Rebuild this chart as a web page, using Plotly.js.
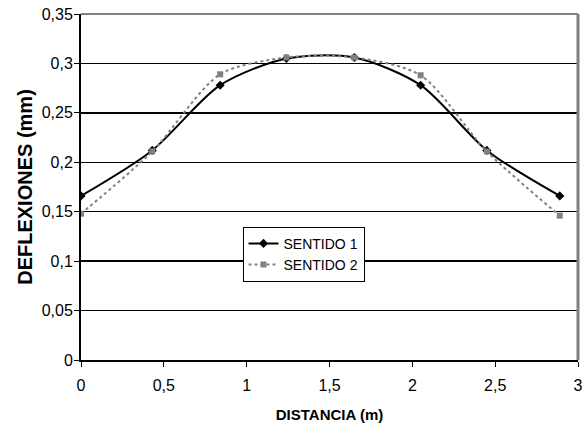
<!DOCTYPE html>
<html>
<head>
<meta charset="utf-8">
<script src="https://cdn.plot.ly/plotly-3.0.1.min.js"></script>
<style>html,body{margin:0;padding:0;background:#fff;}</style>
</head>
<body>
<div id="chart" style="width:588px;height:438px;"></div>
<script>
const distancia = [0, 0.43, 0.84, 1.24, 1.65, 2.05, 2.45, 2.89];
const sentido1 = [0.166, 0.212, 0.278, 0.305, 0.306, 0.278, 0.212, 0.166];
const sentido2 = [0.148, 0.211, 0.289, 0.306, 0.306, 0.288, 0.211, 0.146];
const seriesNames = ['SENTIDO 1', 'SENTIDO 2'];
const xTicks = [0, 0.5, 1, 1.5, 2, 2.5, 3];
const yTicks = [0, 0.05, 0.1, 0.15, 0.2, 0.25, 0.3, 0.35];

const traces = [
  {
    x: distancia, y: sentido1, name: seriesNames[0], type: 'scatter', mode: 'lines+markers',
    line: {color: '#000000', width: 2, shape: 'spline', smoothing: 0.8},
    marker: {symbol: 'diamond', size: 7, color: '#000000'}
  },
  {
    x: distancia, y: sentido2, name: seriesNames[1], type: 'scatter', mode: 'lines+markers',
    line: {color: '#808080', width: 2, dash: 'dot', shape: 'spline', smoothing: 0.8},
    marker: {symbol: 'square', size: 6, color: '#808080'}
  }
];

const layout = {
  width: 588, height: 438,
  separators: ',.',
  margin: {l: 81, r: 10, t: 14, b: 78},
  paper_bgcolor: '#ffffff', plot_bgcolor: '#ffffff',
  font: {family: 'Liberation Sans, Arial, sans-serif', size: 16, color: '#000000'},
  showlegend: true,
  legend: {
    x: 0.325, y: 0.385, xanchor: 'left', yanchor: 'top',
    bgcolor: '#ffffff', bordercolor: '#000000', borderwidth: 1,
    font: {size: 14},
    tracegroupgap: 0, itemwidth: 30
  },
  xaxis: {
    range: [0, 3], tickvals: xTicks, showgrid: false, zeroline: false,
    ticks: 'outside', ticklen: 5, tickcolor: '#000', tickwidth: 1,
    showline: true, linecolor: '#000000', linewidth: 2, mirror: false,
    tickfont: {size: 16}, ticklabelstandoff: 5,
    title: {text: '<b>DISTANCIA (m)</b>', font: {size: 15}, standoff: 16}
  },
  yaxis: {
    range: [0, 0.35], tickvals: yTicks, showgrid: true, gridcolor: '#000000', gridwidth: 1.5,
    zeroline: false, ticks: 'outside', ticklen: 5, tickcolor: '#000', tickwidth: 1,
    showline: true, linecolor: '#000000', linewidth: 2,
    tickfont: {size: 16}, ticklabelstandoff: -2,
    title: {text: '<b>DEFLEXIONES (mm)</b>', font: {size: 20}, standoff: 4}
  },
  shapes: [
    {type: 'line', xref: 'paper', yref: 'paper', x0: 0, x1: 1, y0: 1, y1: 1, line: {color: '#808080', width: 2}},
    {type: 'line', xref: 'paper', yref: 'paper', x0: 1, x1: 1, y0: 0, y1: 1, line: {color: '#808080', width: 3}}
  ]
};

Plotly.newPlot('chart', traces, layout, {displayModeBar: false, staticPlot: true});
</script>
</body>
</html>
